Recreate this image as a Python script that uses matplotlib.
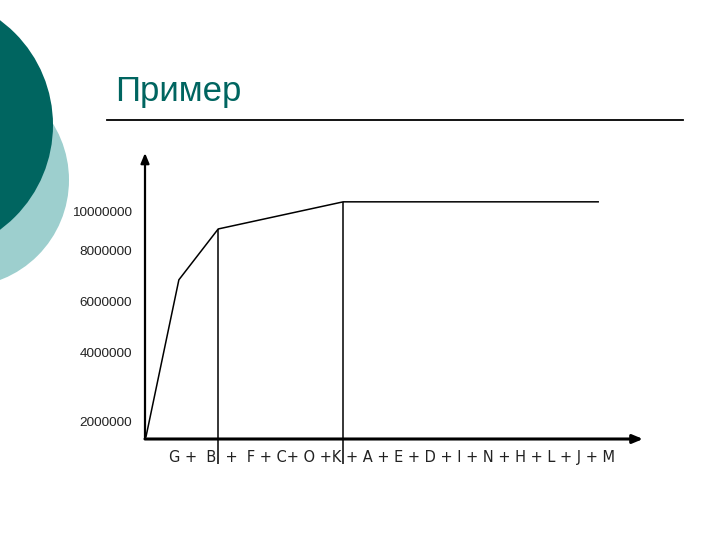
import matplotlib.pyplot as plt
from matplotlib.patches import Circle

# curve: x in % of axis length, y in units
x_vals = [0.2, 6.8, 14.7, 39.8, 91.0]
y_vals = [0.1e6, 7.04e6, 9.29e6, 10.49e6, 10.49e6]
# the two drop lines (after B and after K)
drop_x = [14.7, 39.8]
drop_y = [9.29e6, 10.49e6]

y_labels = ['10000000', '8000000', '6000000', '4000000', '2000000']
y_label_pos = [10.0e6, 8.27e6, 6.02e6, 3.76e6, 0.71e6]
x_label = 'G +  B  +  F + C+ O +K + A + E + D + I + N + H + L + J + M'
title = 'Пример'

teal = '#006560'
light_teal = '#9dcfce'

fig = plt.figure(figsize=(7.2, 5.4), dpi=100)

# background layer in pixel coords for slide decoration
bg = fig.add_axes([0, 0, 1, 1])
bg.set_xlim(0, 720)
bg.set_ylim(540, 0)
bg.axis('off')
bg.add_patch(Circle((-38, 180), 107, color=light_teal, lw=0))
bg.add_patch(Circle((-77, 125), 130, color=teal, lw=0))
bg.plot([107, 683], [120, 120], color='black', lw=1.3)
bg.text(115, 91, title, fontsize=25, color=teal, family='Liberation Sans',
        va='center', ha='left')

# chart area
ax = fig.add_axes([145 / 720, 1 - 439 / 540, 498 / 720, 286 / 540])
ax.set_xlim(0, 100)
ax.set_ylim(0, 12.65e6)
for s in ax.spines.values():
    s.set_visible(False)
ax.set_xticks([])
ax.set_yticks([])
ax.patch.set_alpha(0)

ax.plot(x_vals, y_vals, color='black', lw=1.1)
ax.vlines(drop_x, -1.1e6, drop_y, color='black', lw=1.1, clip_on=False)

ax.annotate('', xy=(1, 0), xytext=(0, 0), xycoords='axes fraction',
            arrowprops=dict(arrowstyle='-|>,head_length=0.6,head_width=0.25',
                            lw=2.2, color='black', shrinkA=0, shrinkB=0))
ax.annotate('', xy=(0, 1), xytext=(0, 0), xycoords='axes fraction',
            arrowprops=dict(arrowstyle='-|>,head_length=0.6,head_width=0.25',
                            lw=1.6, color='black', shrinkA=0, shrinkB=0))

for lab, pos in zip(y_labels, y_label_pos):
    ax.text(-2.6, pos, lab, ha='right', va='center', fontsize=9.7,
            family='Liberation Sans', color='#222222')

ax.text(49.5, -0.82e6, x_label, ha='center', va='center', fontsize=10.5,
        family='DejaVu Sans', color='#222222')

fig.savefig('out.png', dpi=100)
